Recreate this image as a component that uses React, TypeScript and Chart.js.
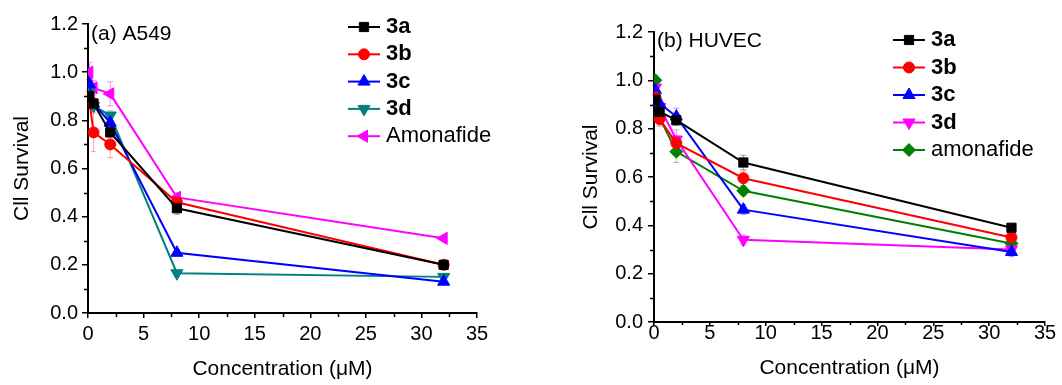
import React, { useEffect, useRef } from 'react';
import { Chart, registerables } from 'chart.js';

Chart.register(...registerables);
Chart.defaults.font.family = '"Liberation Sans", Arial, Helvetica, sans-serif';
Chart.defaults.color = '#000';

// ---------- data ----------
const concentrations = [0.125, 0.5, 2, 8, 32];
const xTickStep = 5;
const xMax = 35;
const yMax = 1.2;
const yTickStep = 0.2;

const seriesNamesA = ['3a', '3b', '3c', '3d', 'Amonafide'];
const seriesNamesB = ['3a', '3b', '3c', '3d', 'amonafide'];

const a549_3a = [0.9, 0.87, 0.75, 0.435, 0.2];
const a549_3b = [0.88, 0.75, 0.7, 0.46, 0.2];
const a549_3c = [0.95, 0.87, 0.79, 0.25, 0.13];
const a549_3d = [0.92, 0.86, 0.82, 0.165, 0.15];
const a549_amonafide = [1.0, 0.935, 0.91, 0.48, 0.31];

const a549_3a_err = [0.02, 0.02, 0.02, 0.025, 0.01];
const a549_3b_err = [0.03, 0.08, 0.055, 0.02, 0.01];
const a549_3c_err = [0.02, 0.02, 0.02, 0.01, 0.01];
const a549_3d_err = [0.02, 0.02, 0.02, 0.01, 0.01];
const a549_amonafide_err = [0.04, 0.03, 0.05, 0.02, 0.01];

const huvec_3a = [0.92, 0.87, 0.835, 0.66, 0.39];
const huvec_3b = [0.93, 0.84, 0.74, 0.595, 0.35];
const huvec_3c = [0.96, 0.905, 0.85, 0.465, 0.29];
const huvec_3d = [0.97, 0.89, 0.755, 0.34, 0.3];
const huvec_amonafide = [1.0, 0.845, 0.705, 0.543, 0.325];

const huvec_3a_err = [0.02, 0.02, 0.02, 0.03, 0.01];
const huvec_3b_err = [0.02, 0.03, 0.03, 0.03, 0.01];
const huvec_3c_err = [0.02, 0.02, 0.035, 0.02, 0.02];
const huvec_3d_err = [0.03, 0.03, 0.04, 0.02, 0.02];
const huvec_amonafide_err = [0.02, 0.03, 0.045, 0.02, 0.01];

// ---------- styles ----------
type Marker = { style: string; rotation: number; radius: number };
const MARK_SQUARE: Marker = { style: 'rect', rotation: 0, radius: 6.5 };
const MARK_CIRCLE: Marker = { style: 'circle', rotation: 0, radius: 5.5 };
const MARK_UP: Marker = { style: 'triangle', rotation: 0, radius: 7 };
const MARK_DOWN: Marker = { style: 'triangle', rotation: 180, radius: 7 };
const MARK_LEFT: Marker = { style: 'triangle', rotation: 270, radius: 7 };
const MARK_DIAMOND: Marker = { style: 'rectRot', rotation: 0, radius: 6.5 };

function drawMarker(ctx: CanvasRenderingContext2D, m: Marker, x: number, y: number, color: string) {
  ctx.save();
  ctx.fillStyle = color;
  ctx.strokeStyle = color;
  ctx.lineWidth = 1;
  ctx.beginPath();
  const r = m.radius;
  if (m.style === 'circle') {
    ctx.arc(x, y, r, 0, Math.PI * 2);
  } else if (m.style === 'rect') {
    const s = r * Math.SQRT1_2;
    ctx.rect(x - s, y - s, 2 * s, 2 * s);
  } else if (m.style === 'rectRot') {
    ctx.moveTo(x - r, y);
    ctx.lineTo(x, y - r);
    ctx.lineTo(x + r, y);
    ctx.lineTo(x, y + r);
    ctx.closePath();
  } else {
    let rad = (m.rotation * Math.PI) / 180;
    ctx.moveTo(x + Math.sin(rad) * r, y - Math.cos(rad) * r);
    rad += (2 * Math.PI) / 3;
    ctx.lineTo(x + Math.sin(rad) * r, y - Math.cos(rad) * r);
    rad += (2 * Math.PI) / 3;
    ctx.lineTo(x + Math.sin(rad) * r, y - Math.cos(rad) * r);
    ctx.closePath();
  }
  ctx.fill();
  ctx.stroke();
  ctx.restore();
}

// ---------- plugins ----------
const errorBars = {
  id: 'errorBars',
  beforeDatasetsDraw(chart: any) {
    const { ctx } = chart;
    const xs = chart.scales.x;
    const ys = chart.scales.y;
    chart.data.datasets.forEach((ds: any) => {
      if (!ds.errors) return;
      ctx.save();
      ctx.strokeStyle = ds.errColor;
      ctx.lineWidth = 1;
      ds.data.forEach((pt: any, i: number) => {
        const e = ds.errors[i];
        const px = xs.getPixelForValue(pt.x);
        const y0 = ys.getPixelForValue(pt.y - e);
        const y1 = ys.getPixelForValue(pt.y + e);
        ctx.beginPath();
        ctx.moveTo(px, y0);
        ctx.lineTo(px, y1);
        ctx.moveTo(px - 3, y0);
        ctx.lineTo(px + 3, y0);
        ctx.moveTo(px - 3, y1);
        ctx.lineTo(px + 3, y1);
        ctx.stroke();
      });
      ctx.restore();
    });
  },
};

const minorTicks = {
  id: 'minorTicks',
  afterDraw(chart: any, _a: any, opts: any) {
    const { ctx, chartArea } = chart;
    const xs = chart.scales.x;
    const ys = chart.scales.y;
    ctx.save();
    ctx.strokeStyle = '#000';
    ctx.lineWidth = 1.5;
    ctx.beginPath();
    for (let v = yTickStep / 2; v < yMax; v += yTickStep) {
      const py = Math.round(ys.getPixelForValue(v)) + 0.5;
      ctx.moveTo(chartArea.left - opts.yLen, py);
      ctx.lineTo(chartArea.left, py);
    }
    for (let v = xTickStep / 2; v < xMax; v += xTickStep) {
      const px = Math.round(xs.getPixelForValue(v)) + 0.5;
      ctx.moveTo(px, chartArea.bottom);
      ctx.lineTo(px, chartArea.bottom + opts.xLen);
    }
    ctx.stroke();
    ctx.restore();
  },
};

const panelDecor = {
  id: 'panelDecor',
  afterDraw(chart: any, _a: any, opts: any) {
    const { ctx } = chart;
    ctx.save();
    ctx.fillStyle = '#000';
    ctx.textBaseline = 'middle';
    ctx.textAlign = 'left';
    ctx.font = `21px ${Chart.defaults.font.family}`;
    ctx.fillText(opts.label, opts.labelX, opts.labelY);
    chart.data.datasets.forEach((ds: any, i: number) => {
      const y = opts.legendY + i * opts.legendGap;
      ctx.strokeStyle = ds.borderColor;
      ctx.lineWidth = 2;
      ctx.beginPath();
      ctx.moveTo(opts.legendX, y);
      ctx.lineTo(opts.legendX + opts.legendLine, y);
      ctx.stroke();
      drawMarker(ctx, ds.marker, opts.legendX + opts.legendLine / 2, y, ds.borderColor);
      ctx.fillStyle = '#000';
      ctx.font = `${ds.boldLegend ? 'bold ' : ''}22px ${Chart.defaults.font.family}`;
      ctx.fillText(ds.label, opts.legendX + opts.legendLine + 6, y);
    });
    ctx.restore();
  },
};

// ---------- panels ----------
type Series = { name: string; values: number[]; errors: number[]; color: string; errColor: string; marker: Marker; bold: boolean };

const panelA: Series[] = [
  { name: seriesNamesA[0], values: a549_3a, errors: a549_3a_err, color: '#000000', errColor: 'rgba(0,0,0,0.35)', marker: MARK_SQUARE, bold: true },
  { name: seriesNamesA[1], values: a549_3b, errors: a549_3b_err, color: '#ff0000', errColor: 'rgba(255,0,0,0.35)', marker: MARK_CIRCLE, bold: true },
  { name: seriesNamesA[2], values: a549_3c, errors: a549_3c_err, color: '#0000ff', errColor: 'rgba(0,0,255,0.35)', marker: MARK_UP, bold: true },
  { name: seriesNamesA[3], values: a549_3d, errors: a549_3d_err, color: '#008080', errColor: 'rgba(0,128,128,0.35)', marker: MARK_DOWN, bold: true },
  { name: seriesNamesA[4], values: a549_amonafide, errors: a549_amonafide_err, color: '#ff00ff', errColor: 'rgba(255,0,255,0.45)', marker: MARK_LEFT, bold: false },
];

const panelB: Series[] = [
  { name: seriesNamesB[0], values: huvec_3a, errors: huvec_3a_err, color: '#000000', errColor: 'rgba(0,0,0,0.35)', marker: MARK_SQUARE, bold: true },
  { name: seriesNamesB[1], values: huvec_3b, errors: huvec_3b_err, color: '#ff0000', errColor: 'rgba(255,0,0,0.35)', marker: MARK_CIRCLE, bold: true },
  { name: seriesNamesB[2], values: huvec_3c, errors: huvec_3c_err, color: '#0000ff', errColor: 'rgba(0,0,255,0.35)', marker: MARK_UP, bold: true },
  { name: seriesNamesB[3], values: huvec_3d, errors: huvec_3d_err, color: '#ff00ff', errColor: 'rgba(255,0,255,0.45)', marker: MARK_DOWN, bold: true },
  { name: seriesNamesB[4], values: huvec_amonafide, errors: huvec_amonafide_err, color: '#008000', errColor: 'rgba(0,128,0,0.4)', marker: MARK_DIAMOND, bold: false },
];

type Layout = {
  padding: { left: number; right: number; top: number; bottom: number };
  yAxisWidth: number;
  xAxisHeight: number;
  xTickPad: number;
  yTickPad: number;
  xTickLen: number;
  yTickLen: number;
  xTitlePad: number;
  yTitlePad: number;
  decor: any;
};

const layoutA: Layout = {
  padding: { left: 0, right: 54, top: 24, bottom: 0 },
  yAxisWidth: 88,
  xAxisHeight: 72,
  xTickPad: 4,
  yTickPad: 4,
  xTickLen: 5,
  yTickLen: 6,
  xTitlePad: 3,
  yTitlePad: 10,
  decor: { label: '(a) A549', labelX: 91, labelY: 34, legendX: 348, legendY: 27, legendGap: 27.3, legendLine: 32 },
};

const layoutB: Layout = {
  padding: { left: 0, right: 17, top: 32, bottom: 0 },
  yAxisWidth: 123,
  xAxisHeight: 63,
  xTickPad: -5,
  yTickPad: 5,
  xTickLen: 4,
  yTickLen: 6,
  xTitlePad: 4,
  yTitlePad: 48,
  decor: { label: '(b) HUVEC', labelX: 126, labelY: 41, legendX: 362, legendY: 40, legendGap: 27.5, legendLine: 32 },
};

function buildChart(canvas: HTMLCanvasElement, series: Series[], L: Layout) {
  return new Chart(canvas, {
    type: 'line',
    data: {
      datasets: series.map((s) => ({
        label: s.name,
        data: concentrations.map((x, i) => ({ x, y: s.values[i] })),
        errors: s.errors,
        errColor: s.errColor,
        marker: s.marker,
        boldLegend: s.bold,
        borderColor: s.color,
        backgroundColor: s.color,
        pointBackgroundColor: s.color,
        pointBorderColor: s.color,
        pointStyle: s.marker.style,
        pointRotation: s.marker.rotation,
        pointRadius: s.marker.radius,
        pointBorderWidth: 1,
        borderWidth: 2,
        tension: 0,
      })) as any,
    },
    options: {
      animation: false,
      responsive: false,
      maintainAspectRatio: false,
      events: [],
      layout: { padding: L.padding },
      plugins: {
        legend: { display: false },
        tooltip: { enabled: false },
        minorTicks: { xLen: L.xTickLen - 1, yLen: L.yTickLen - 2 },
        panelDecor: L.decor,
      } as any,
      scales: {
        x: {
          type: 'linear',
          min: 0,
          max: xMax,
          afterFit: (s: any) => {
            s.height = L.xAxisHeight;
          },
          ticks: {
            stepSize: xTickStep,
            font: { size: 20 },
            color: '#000',
            padding: L.xTickPad,
            maxRotation: 0,
            autoSkip: false,
            callback: (v: any) => String(v),
          },
          grid: { drawOnChartArea: false, drawTicks: true, tickLength: L.xTickLen, color: '#000', lineWidth: 1.5 },
          border: { color: '#000', width: 2 },
          title: { display: true, text: 'Concentration (μM)', font: { size: 21 }, color: '#000', padding: { top: 0, bottom: L.xTitlePad } },
        },
        y: {
          type: 'linear',
          min: 0,
          max: yMax,
          afterFit: (s: any) => {
            s.width = L.yAxisWidth;
          },
          ticks: {
            stepSize: yTickStep,
            font: { size: 20 },
            color: '#000',
            padding: L.yTickPad,
            callback: (v: any) => Number(v).toFixed(1),
          },
          grid: { drawOnChartArea: false, drawTicks: true, tickLength: L.yTickLen, color: '#000', lineWidth: 1.5 },
          border: { color: '#000', width: 2 },
          title: { display: true, text: 'Cll Survival', font: { size: 21 }, color: '#000', padding: { top: L.yTitlePad, bottom: 0 } },
        },
      },
    } as any,
    plugins: [errorBars, minorTicks, panelDecor] as any,
  });
}

export default function App() {
  const refA = useRef<HTMLCanvasElement>(null);
  const refB = useRef<HTMLCanvasElement>(null);

  useEffect(() => {
    const a = buildChart(refA.current!, panelA, layoutA);
    const b = buildChart(refB.current!, panelB, layoutB);
    return () => {
      a.destroy();
      b.destroy();
    };
  }, []);

  return (
    <div style={{ position: 'fixed', left: 0, top: 0, width: 1062, height: 385, background: '#fff' }}>
      <canvas ref={refA} width={531} height={385} style={{ position: 'absolute', left: 0, top: 0, width: 531, height: 385 }} />
      <canvas ref={refB} width={531} height={385} style={{ position: 'absolute', left: 531, top: 0, width: 531, height: 385 }} />
    </div>
  );
}
